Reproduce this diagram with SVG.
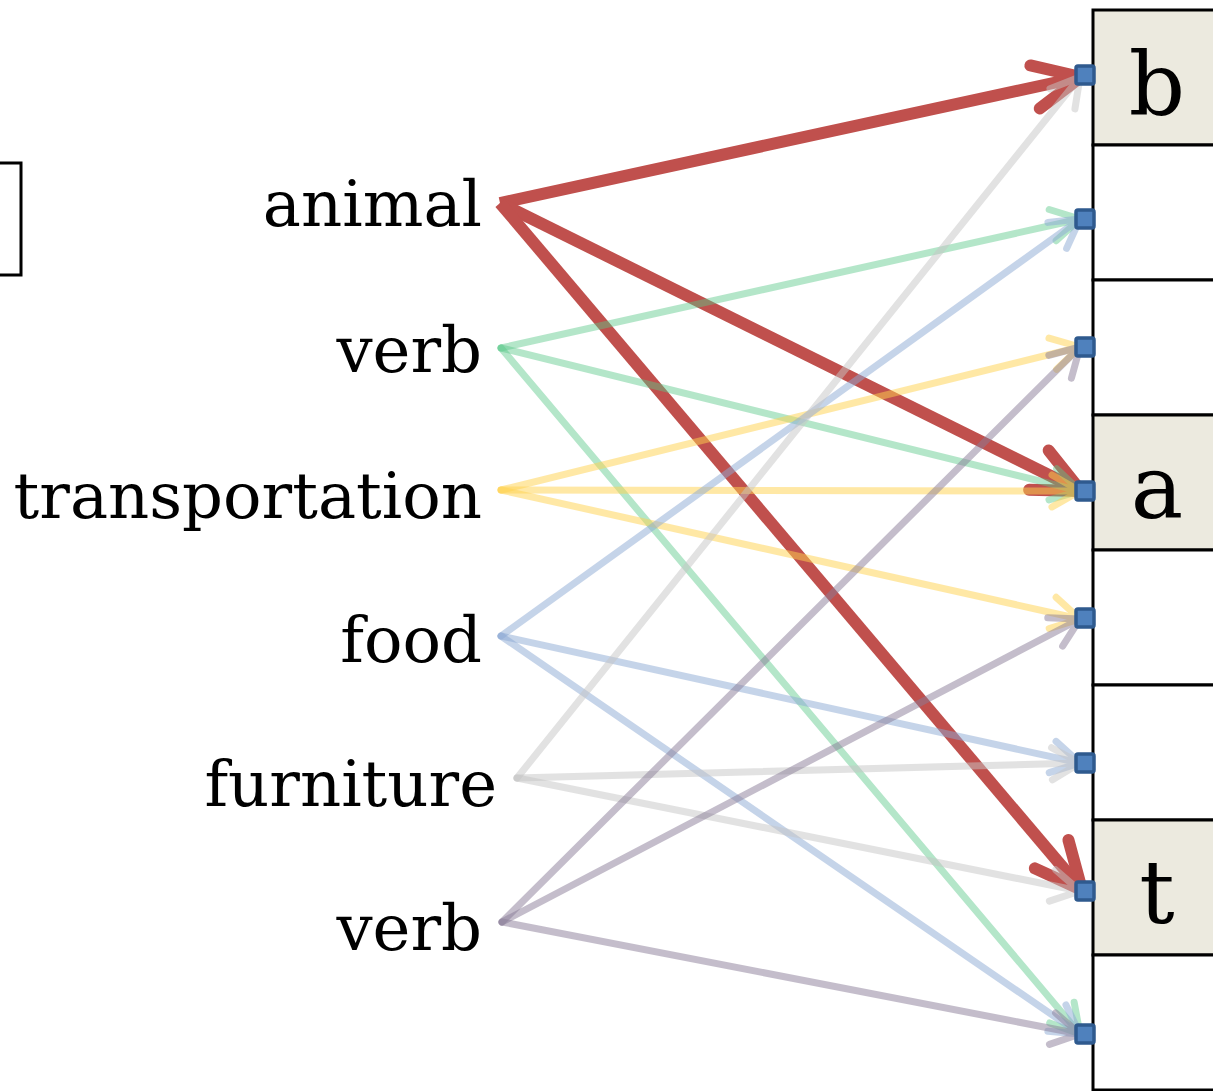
<svg xmlns="http://www.w3.org/2000/svg" width="1213" height="1091" viewBox="0 0 1213 1091">
  <style>
    .lbl { font-family: "DejaVu Serif", "Liberation Serif", serif; font-size: 64px; fill: #000; text-anchor: end; }
    .key { font-family: "DejaVu Serif", "Liberation Serif", serif; font-size: 88px; fill: #000; text-anchor: middle; }
    .cell { fill: #ffffff; stroke: #000; stroke-width: 3; }
    .cell.hi { fill: #ECEADF; }
    .port { fill: #4F81BD; stroke: #2F5A8E; stroke-width: 3.5; }
    .e path { fill: none; stroke-linecap: round; stroke-linejoin: round; }
    .red path { stroke: #C0504D; stroke-width: 12; stroke-linecap: butt; }
    .green { opacity: 0.45; } .green path { stroke: #5AC98A; stroke-width: 7; }
    .yellow { opacity: 0.5; } .yellow path { stroke: #FFD34E; stroke-width: 7; }
    .blue { opacity: 0.5; } .blue path { stroke: #8DAAD5; stroke-width: 7; }
    .gray { opacity: 0.5; } .gray path { stroke: #C6C6C6; stroke-width: 7; }
    .purple { opacity: 0.5; } .purple path { stroke: #8A7D98; stroke-width: 7; }
  </style>
  <defs>
    <marker id="hd-red" markerUnits="userSpaceOnUse" orient="auto" overflow="visible" markerWidth="1" markerHeight="1" refX="0" refY="0">
      <path d="M-47,-22 L0,0 L-47,22" fill="none" stroke="#C0504D" stroke-width="12" stroke-linecap="round" stroke-linejoin="round"/>
    </marker>
    <marker id="hd-green" markerUnits="userSpaceOnUse" orient="auto" overflow="visible" markerWidth="1" markerHeight="1" refX="0" refY="0">
      <path d="M-28,-16 L0,0 L-28,16" fill="none" stroke="#5AC98A" stroke-width="7" stroke-linecap="round" stroke-linejoin="round"/>
    </marker>
    <marker id="hd-yellow" markerUnits="userSpaceOnUse" orient="auto" overflow="visible" markerWidth="1" markerHeight="1" refX="0" refY="0">
      <path d="M-28,-16 L0,0 L-28,16" fill="none" stroke="#FFD34E" stroke-width="7" stroke-linecap="round" stroke-linejoin="round"/>
    </marker>
    <marker id="hd-blue" markerUnits="userSpaceOnUse" orient="auto" overflow="visible" markerWidth="1" markerHeight="1" refX="0" refY="0">
      <path d="M-28,-16 L0,0 L-28,16" fill="none" stroke="#8DAAD5" stroke-width="7" stroke-linecap="round" stroke-linejoin="round"/>
    </marker>
    <marker id="hd-gray" markerUnits="userSpaceOnUse" orient="auto" overflow="visible" markerWidth="1" markerHeight="1" refX="0" refY="0">
      <path d="M-28,-16 L0,0 L-28,16" fill="none" stroke="#C6C6C6" stroke-width="7" stroke-linecap="round" stroke-linejoin="round"/>
    </marker>
    <marker id="hd-purple" markerUnits="userSpaceOnUse" orient="auto" overflow="visible" markerWidth="1" markerHeight="1" refX="0" refY="0">
      <path d="M-28,-16 L0,0 L-28,16" fill="none" stroke="#8A7D98" stroke-width="7" stroke-linecap="round" stroke-linejoin="round"/>
    </marker>
  </defs>

  <rect width="1213" height="1091" fill="#ffffff"/>

  <!-- partial box at the left edge -->
  <g id="side-box">
    <rect x="-20" y="163" width="41" height="112" fill="#ffffff" stroke="#000" stroke-width="3"/>
  </g>

  <!-- slot column on the right -->
  <g id="slots">
    <rect class="cell hi" x="1093" y="10" width="150" height="135"/>
    <rect class="cell" x="1093" y="145" width="150" height="135"/>
    <rect class="cell" x="1093" y="280" width="150" height="135"/>
    <rect class="cell hi" x="1093" y="415" width="150" height="135"/>
    <rect class="cell" x="1093" y="550" width="150" height="135"/>
    <rect class="cell" x="1093" y="685" width="150" height="135"/>
    <rect class="cell hi" x="1093" y="820" width="150" height="135"/>
    <rect class="cell" x="1093" y="955" width="150" height="135"/>
    <text class="key" x="1157" y="115">b</text>
    <text class="key" x="1157" y="518">a</text>
    <text class="key" x="1157" y="923">t</text>
  </g>

  <!-- word labels -->
  <g id="w-animal"><text class="lbl" x="482" y="226">animal</text></g>
  <g id="w-verb1"><text class="lbl" x="482" y="372">verb</text></g>
  <g id="w-transportation"><text class="lbl" x="482" y="518">transportation</text></g>
  <g id="w-food"><text class="lbl" x="482" y="662">food</text></g>
  <g id="w-furniture"><text class="lbl" x="497" y="806">furniture</text></g>
  <g id="w-verb2"><text class="lbl" x="482" y="950">verb</text></g>

  <!-- connectors -->
  <g id="connectors">
    <g class="e red"><path d="M500,203 L1081,77" marker-end="url(#hd-red)"/></g>
    <g class="e red"><path d="M500,203 L1081,491" marker-end="url(#hd-red)"/></g>
    <g class="e red"><path d="M500,203 L1082,890" marker-end="url(#hd-red)"/></g>

    <g class="e green"><path d="M501,348 L1080,219" marker-end="url(#hd-green)"/></g>
    <g class="e green"><path d="M501,348 L1080,491" marker-end="url(#hd-green)"/></g>
    <g class="e green"><path d="M501,348 L1080,1034" marker-end="url(#hd-green)"/></g>

    <g class="e yellow"><path d="M501,490 L1080,347" marker-end="url(#hd-yellow)"/></g>
    <g class="e yellow"><path d="M501,490 L1080,491" marker-end="url(#hd-yellow)"/></g>
    <g class="e yellow"><path d="M501,490 L1080,619" marker-end="url(#hd-yellow)"/></g>

    <g class="e blue"><path d="M501,636 L1080,219" marker-end="url(#hd-blue)"/></g>
    <g class="e blue"><path d="M501,636 L1080,763" marker-end="url(#hd-blue)"/></g>
    <g class="e blue"><path d="M501,636 L1080,1034" marker-end="url(#hd-blue)"/></g>

    <g class="e gray"><path d="M517,778 L1080,77" marker-end="url(#hd-gray)"/></g>
    <g class="e gray"><path d="M517,778 L1080,763" marker-end="url(#hd-gray)"/></g>
    <g class="e gray"><path d="M517,778 L1080,891" marker-end="url(#hd-gray)"/></g>

    <g class="e purple"><path d="M502,922 L1080,347" marker-end="url(#hd-purple)"/></g>
    <g class="e purple"><path d="M502,922 L1080,619" marker-end="url(#hd-purple)"/></g>
    <g class="e purple"><path d="M502,922 L1080,1034" marker-end="url(#hd-purple)"/></g>
  </g>

  <!-- input ports on the slot column -->
  <g id="ports">
    <rect class="port" x="1076" y="66" width="18" height="18" rx="2"/>
    <rect class="port" x="1076" y="210" width="18" height="18" rx="2"/>
    <rect class="port" x="1076" y="338" width="18" height="18" rx="2"/>
    <rect class="port" x="1076" y="482" width="18" height="18" rx="2"/>
    <rect class="port" x="1076" y="609" width="18" height="18" rx="2"/>
    <rect class="port" x="1076" y="754" width="18" height="18" rx="2"/>
    <rect class="port" x="1076" y="882" width="18" height="18" rx="2"/>
    <rect class="port" x="1076" y="1025" width="18" height="18" rx="2"/>
  </g>
</svg>
